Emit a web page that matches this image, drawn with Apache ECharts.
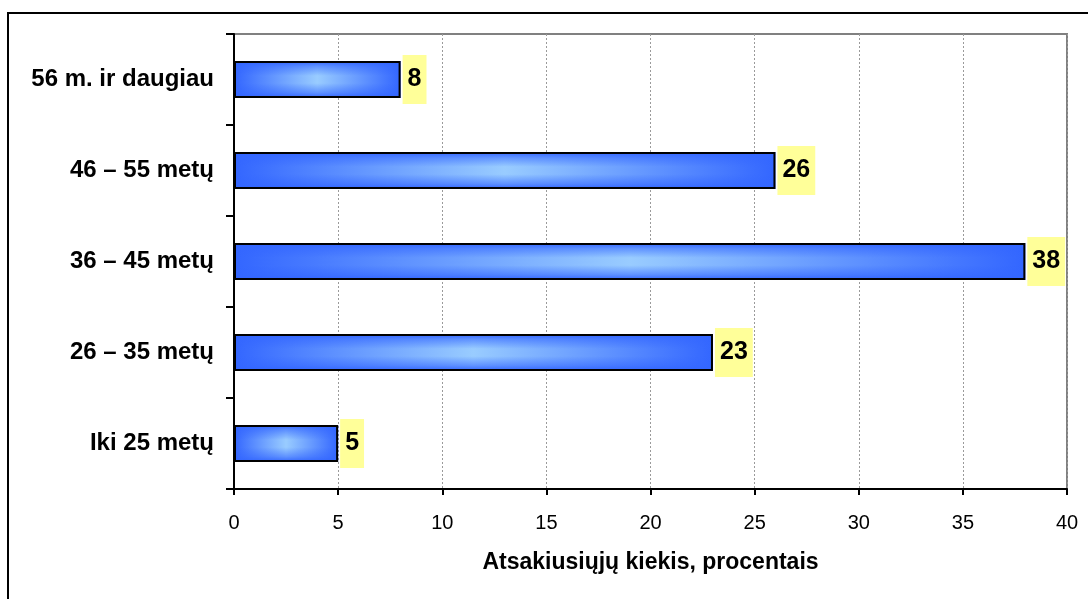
<!DOCTYPE html>
<html>
<head>
<meta charset="utf-8">
<script src="https://cdn.jsdelivr.net/npm/echarts@6/dist/echarts.min.js"></script>
<style>
  html, body { margin: 0; padding: 0; background: #fff; }
  #chart { width: 1088px; height: 599px; }
</style>
</head>
<body>
<div id="chart"></div>
<script>
// Age groups, bottom to top
const ageGroups = ['Iki 25 metų', '26 – 35 metų', '36 – 45 metų', '46 – 55 metų', '56 m. ir daugiau'];
// Share of respondents in each group, percent
const shares = [5, 23, 38, 26, 8];
const axisTitle = 'Atsakiusiųjų kiekis, procentais';

const DARK = '#3366FF';
const LIGHT = '#99CCFF';
const FONT = '"Liberation Sans", Arial, sans-serif';

const chart = echarts.init(document.getElementById('chart'), null, { renderer: 'canvas' });

chart.setOption({
  animation: false,
  backgroundColor: '#ffffff',
  textStyle: { fontFamily: FONT },
  graphic: [{
    type: 'rect',
    shape: { x: 8, y: 13, width: 1200, height: 700 },
    style: { fill: 'none', stroke: '#000', lineWidth: 2 },
    z: 100
  }],
  grid: {
    left: 234, right: 21, top: 34, bottom: 110,
    containLabel: false,
    outerBoundsMode: 'none',
    show: true, borderColor: '#808080', borderWidth: 2, backgroundColor: 'transparent'
  },
  xAxis: {
    type: 'value', min: 0, max: 40, interval: 5,
    axisLine: { show: true, lineStyle: { color: '#000', width: 2 } },
    axisTick: { show: true, length: 6, lineStyle: { color: '#000', width: 2 } },
    axisLabel: { color: '#000', fontSize: 20, margin: 24, fontFamily: FONT },
    splitLine: { show: true, lineStyle: { color: '#9a9a9a', width: 1, type: [2, 2] } },
    name: axisTitle,
    nameLocation: 'middle',
    nameGap: 62,
    nameTextStyle: { color: '#000', fontSize: 23, fontWeight: 'bold', fontFamily: FONT }
  },
  yAxis: {
    type: 'category', data: ageGroups,
    axisLine: { show: true, lineStyle: { color: '#000', width: 2 } },
    axisTick: { show: true, length: 8, lineStyle: { color: '#000', width: 2 } },
    axisLabel: { color: '#000', fontSize: 24, fontWeight: 'bold', margin: 20, fontFamily: FONT },
    splitLine: { show: false }
  },
  series: [
    {
      // base layer: light centre fading to blue at both ends
      type: 'bar', data: shares, barWidth: 37, silent: true,
      itemStyle: {
        color: new echarts.graphic.LinearGradient(0, 0, 1, 0, [
          { offset: 0, color: DARK },
          { offset: 0.5, color: LIGHT },
          { offset: 1, color: DARK }
        ])
      },
      z: 2
    },
    {
      // top layer: darkens upper and lower edges, carries outline and value label
      type: 'bar', data: shares, barWidth: 37, barGap: '-100%',
      itemStyle: {
        color: new echarts.graphic.LinearGradient(0, 0, 0, 1, [
          { offset: 0, color: 'rgba(51,102,255,1)' },
          { offset: 0.15, color: 'rgba(51,102,255,0.55)' },
          { offset: 0.4, color: 'rgba(51,102,255,0)' },
          { offset: 0.6, color: 'rgba(51,102,255,0)' },
          { offset: 0.85, color: 'rgba(51,102,255,0.55)' },
          { offset: 1, color: 'rgba(51,102,255,1)' }
        ]),
        borderColor: '#000', borderWidth: 2
      },
      label: {
        show: true, position: 'right', distance: 2,
        color: '#000', fontSize: 25, fontWeight: 'bold', fontFamily: FONT,
        backgroundColor: '#FFFF99', padding: [12, 5]
      },
      z: 3
    }
  ]
});
</script>
</body>
</html>
